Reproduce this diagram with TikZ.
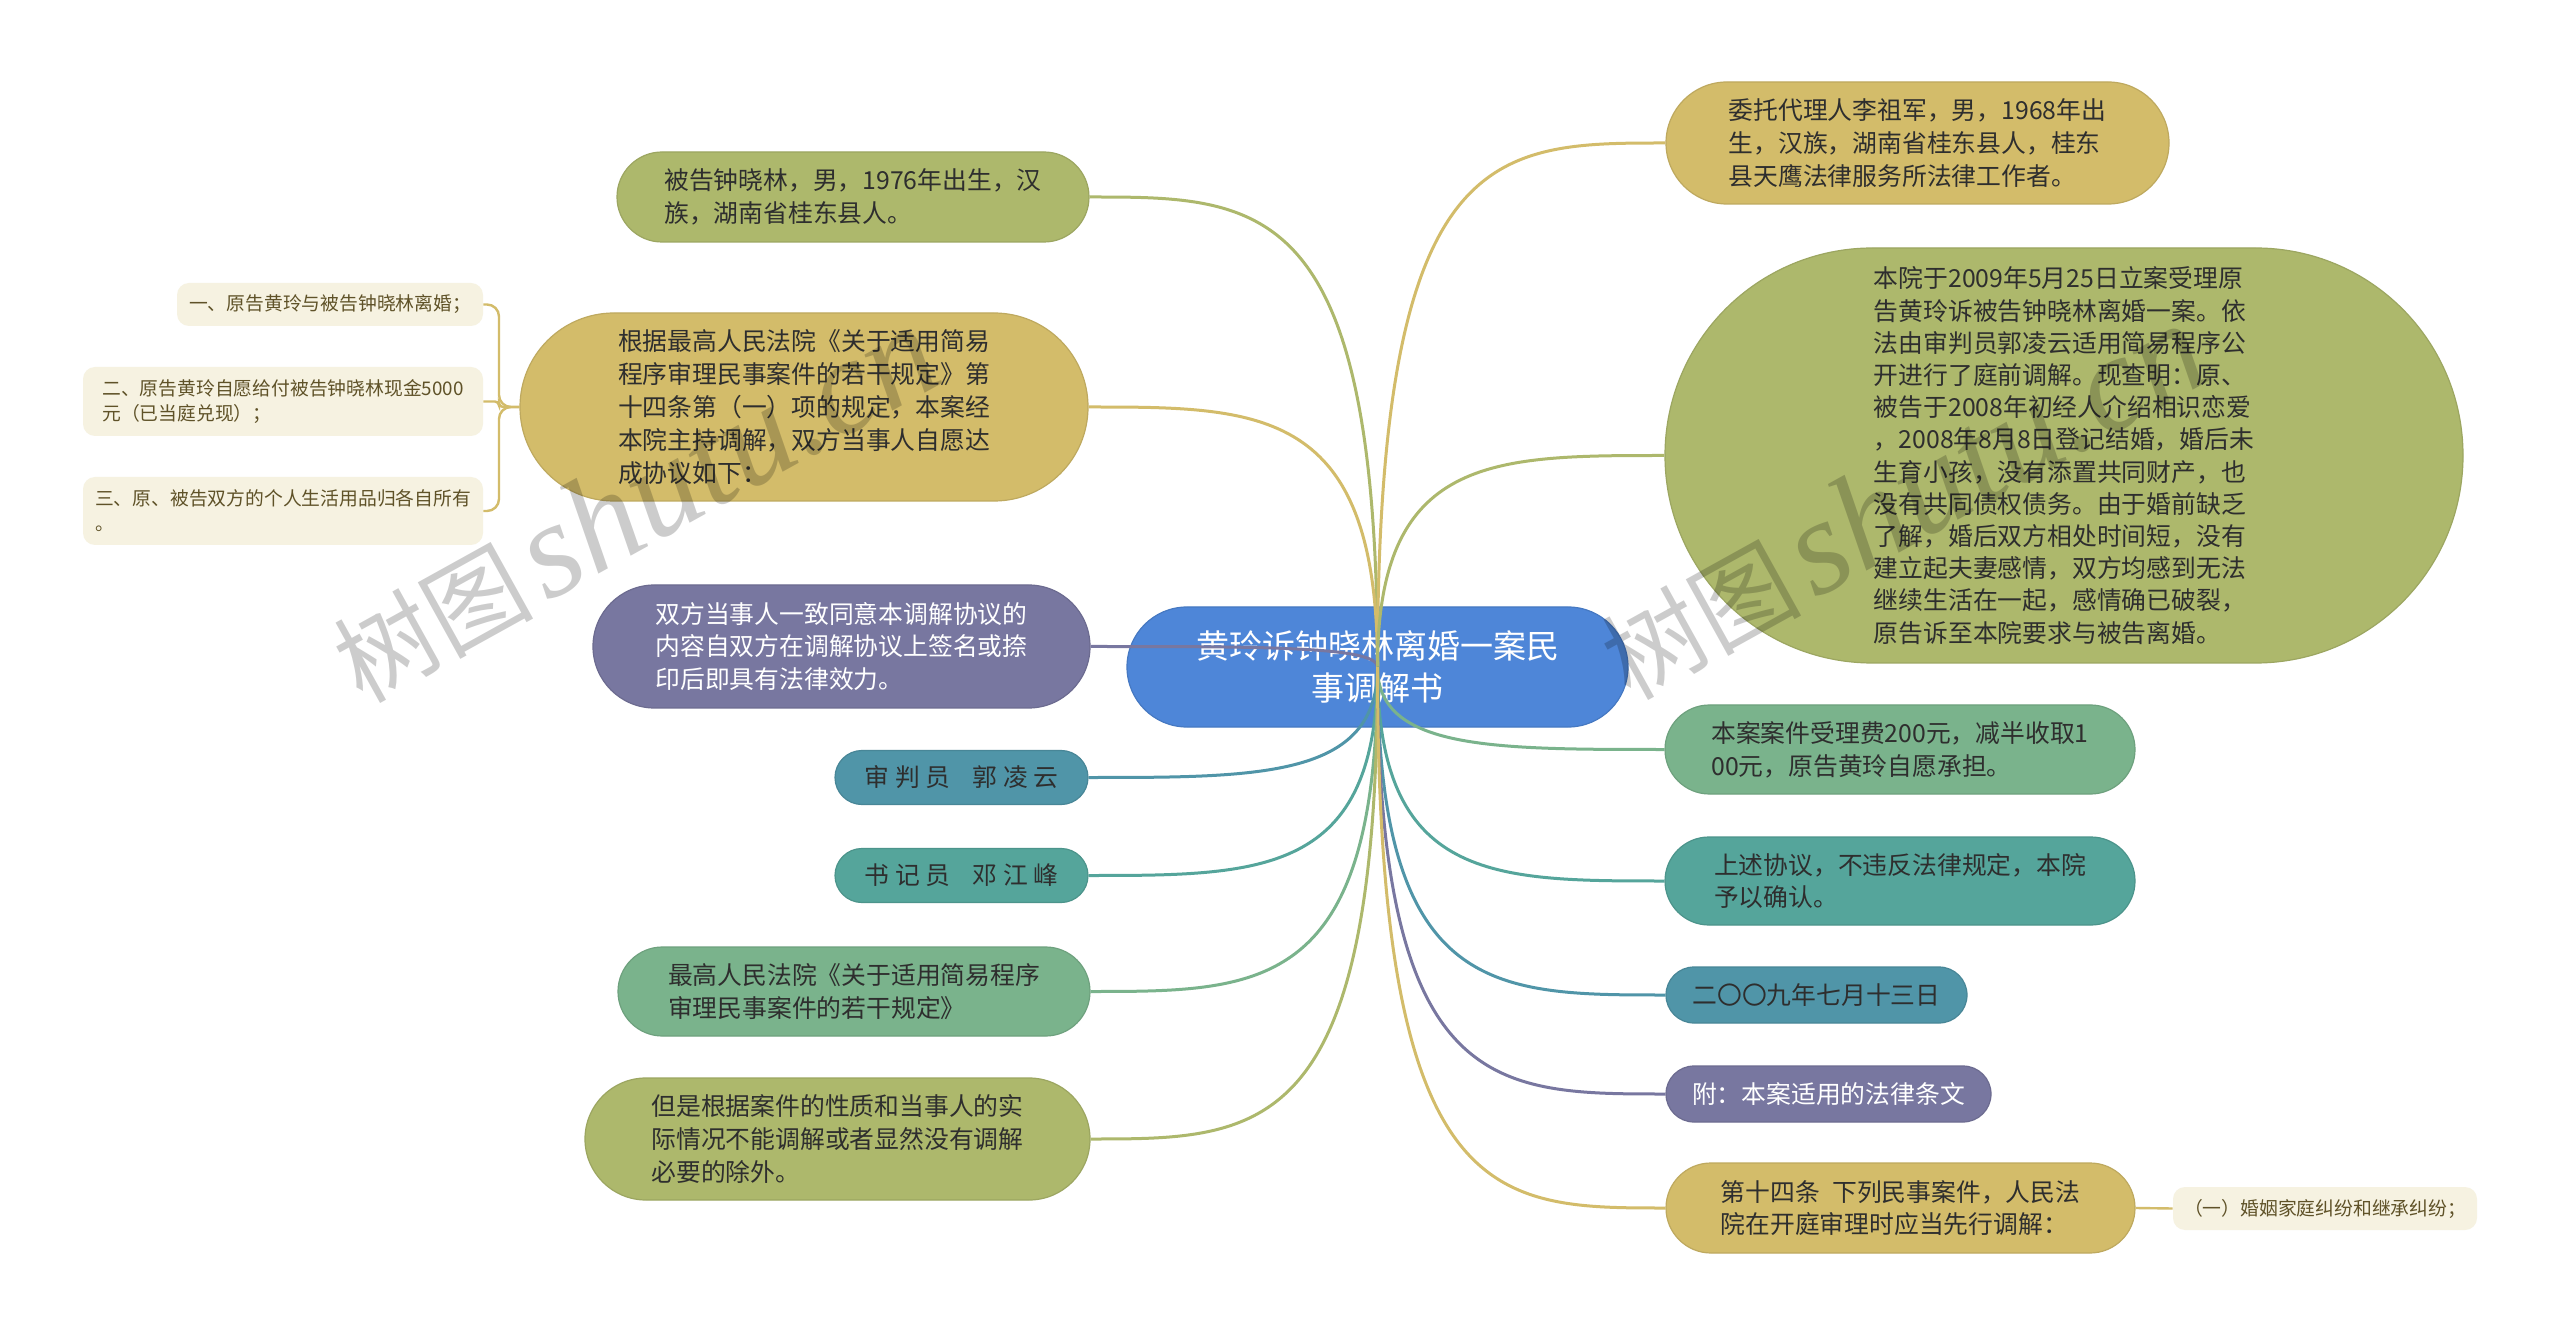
\documentclass[tikz,border=0pt]{standalone}
\usepackage{fontspec}
\setmainfont{Noto Sans CJK SC}
\newfontfamily\wmlat{Liberation Serif}
\usetikzlibrary{shapes.misc,calc}
\definecolor{cRoot}{HTML}{4E86D8}
\definecolor{cOlive}{HTML}{ADB86C}
\definecolor{cGold}{HTML}{D3BC6A}
\definecolor{cPurple}{HTML}{7877A0}
\definecolor{cTealB}{HTML}{5095A8}
\definecolor{cTeal}{HTML}{55A59B}
\definecolor{cGreen}{HTML}{7AB38C}
\definecolor{cCream}{HTML}{F6F2E1}
\definecolor{cTxt}{HTML}{2E2E2E}
\definecolor{cCreamTxt}{HTML}{5F5228}
\tikzset{
  nd/.style={rounded rectangle, fill=#1, draw=#1!90!black, line width=0.6pt, inner sep=0pt,
    align=left, text=cTxt, font=\fontsize{12.4}{16.4}\selectfont},
  cream/.style={rectangle, rounded corners=6pt, fill=cCream, inner sep=0pt, align=left,
    text=cCreamTxt, font=\fontsize{9.4}{12.6}\selectfont},
  wm/.style={anchor=base west, rotate=29, inner sep=0pt, text=black, text opacity=0.2},
  mmline/.style={line width=1.5pt, draw=#1}
}
\newcommand\mmconn[2]{\draw[mmline=#1] (R.center) .. controls (R.center |- #2) and ($(R.center |- #2)!0.4!(#2)$) .. (#2);}
\begin{document}
\begin{tikzpicture}[x=0.5pt,y=-0.5pt]
\fill[white] (0,0) rectangle (2560,1336);
\useasboundingbox (0,0) rectangle (2560,1336);

% root
\node[rounded rectangle, fill=cRoot, draw=cRoot!90!black, line width=0.6pt, minimum width=250.5pt, minimum height=60pt, inner sep=0pt,
  align=center, text=white, font=\fontsize{16.5}{20.8}\selectfont] (R) at (1377.5,667) {黄玲诉钟晓林离婚一案民\\事调解书};

% left side
\node[nd=cOlive, minimum width=236pt, minimum height=45pt] (A) at (853,197) {被告钟晓林，男，1976年出生，汉\\族，湖南省桂东县人。};
\node[nd=cGold, minimum width=284pt, minimum height=94pt] (B) at (804,407) {根据最高人民法院《关于适用简易\\程序审理民事案件的若干规定》第\\十四条第（一）项的规定，本案经\\本院主持调解，双方当事人自愿达\\成协议如下：};
\node[cream, minimum width=153pt, minimum height=21.5pt] (B1) at (330,304.5) {一、原告黄玲与被告钟晓林离婚；};
\node[cream, minimum width=200pt, minimum height=34.5pt] (B2) at (283,401.5) {二、原告黄玲自愿给付被告钟晓林现金5000\\元（已当庭兑现）；};
\node[cream, minimum width=200pt, minimum height=34pt] (B3) at (283,511) {三、原、被告双方的个人生活用品归各自所有\\。};
\node[nd=cPurple, minimum width=248.5pt, minimum height=61.5pt, text=white] (C) at (841.5,646.5) {双方当事人一致同意本调解协议的\\内容自双方在调解协议上签名或捺\\印后即具有法律效力。};
\node[nd=cTealB, minimum width=126.5pt, minimum height=27pt] (D) at (961.5,777.5) {审 判 员\hspace{0.9em}郭 凌 云};
\node[nd=cTeal, minimum width=126.5pt, minimum height=27pt] (E) at (961.5,875.5) {书 记 员\hspace{0.9em}邓 江 峰};
\node[nd=cGreen, minimum width=236pt, minimum height=44.5pt] (F) at (854,991.5) {最高人民法院《关于适用简易程序\\审理民事案件的若干规定》};
\node[nd=cOlive, minimum width=252.5pt, minimum height=61pt] (G) at (837.5,1139) {但是根据案件的性质和当事人的实\\际情况不能调解或者显然没有调解\\必要的除外。};

% right side
\node[nd=cGold, minimum width=251.5pt, minimum height=61pt] (H) at (1917.5,143) {委托代理人李祖军，男，1968年出\\生，汉族，湖南省桂东县人，桂东\\县天鹰法律服务所法律工作者。};
\node[nd=cOlive, minimum width=399pt, minimum height=207.5pt, font=\fontsize{12.4}{16.1}\selectfont] (I) at (2064,455.5) {本院于2009年5月25日立案受理原\\告黄玲诉被告钟晓林离婚一案。依\\法由审判员郭凌云适用简易程序公\\开进行了庭前调解。现查明：原、\\被告于2008年初经人介绍相识恋爱\\，2008年8月8日登记结婚，婚后未\\生育小孩，没有添置共同财产，也\\没有共同债权债务。由于婚前缺乏\\了解，婚后双方相处时间短，没有\\建立起夫妻感情，双方均感到无法\\继续生活在一起，感情确已破裂，\\原告诉至本院要求与被告离婚。};
\node[nd=cGreen, minimum width=235pt, minimum height=44.5pt] (J) at (1900,749.5) {本案案件受理费200元，减半收取1\\00元，原告黄玲自愿承担。};
\node[nd=cTeal, minimum width=235pt, minimum height=44pt] (K) at (1900,881) {上述协议，不违反法律规定，本院\\予以确认。};
\node[nd=cTealB, minimum width=150.5pt, minimum height=28pt] (L) at (1816.5,995) {二〇〇九年七月十三日};
\node[nd=cPurple, minimum width=162.5pt, minimum height=28pt, text=white] (M) at (1828.5,1094) {附：本案适用的法律条文};
\node[nd=cGold, minimum width=234.5pt, minimum height=45pt] (N) at (1900.5,1208) {第十四条\hspace{0.5em}下列民事案件，人民法\\院在开庭审理时应当先行调解：};
\node[cream, minimum width=152pt, minimum height=21.5pt] (N1) at (2325,1208.5) {（一）婚姻家庭纠纷和继承纠纷；};

% sub-connectors
\draw[cGold, line width=1.2pt, rounded corners=6pt] (B.west) -- (499,407) |- (B1.east);
\draw[cGold, line width=1.2pt, rounded corners=2pt] (B.west) -- (499,407) |- (B2.east);
\draw[cGold, line width=1.2pt, rounded corners=6pt] (B.west) -- (499,407) |- (B3.east);
\draw[cGold, line width=1.2pt] (N.east) -- (N1.west);

% main connectors
\mmconn{cOlive}{A.east}
\mmconn{cGold}{B.east}
\mmconn{cPurple}{C.east}
\mmconn{cTealB}{D.east}
\mmconn{cTeal}{E.east}
\mmconn{cGreen}{F.east}
\mmconn{cOlive}{G.east}
\mmconn{cGold}{H.west}
\mmconn{cOlive}{I.west}
\mmconn{cGreen}{J.west}
\mmconn{cTeal}{K.west}
\mmconn{cTealB}{L.west}
\mmconn{cPurple}{M.west}
\mmconn{cGold}{N.west}

% watermarks
\node[wm] (W1) at (362,705) {{\fontsize{50}{50}\selectfont 树图}\hspace{6pt}{\wmlat\itshape\fontsize{68}{68}\selectfont shutu.cn}};
\node[wm] (W2) at (1630,702) {{\fontsize{50}{50}\selectfont 树图}\hspace{6pt}{\wmlat\itshape\fontsize{68}{68}\selectfont shutu.cn}};
\end{tikzpicture}
\end{document}
